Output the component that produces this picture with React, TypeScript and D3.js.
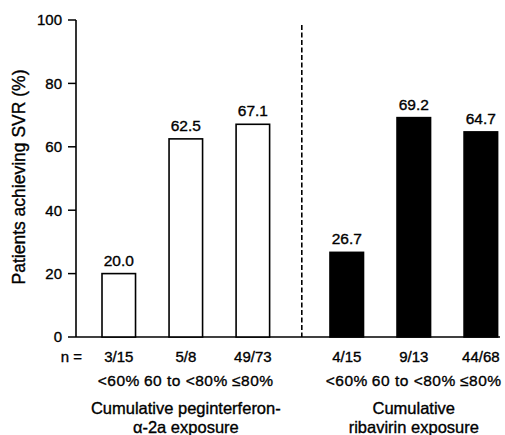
import React from 'react';
import * as d3 from 'd3';

const groups = ['peg', 'rib'];
const categories = ['<60%', '60 to <80%', '≤80%'];
const pegValues = [20.0, 62.5, 67.1];
const ribValues = [26.7, 69.2, 64.7];
const pegN = ['3/15', '5/8', '49/73'];
const ribN = ['4/15', '9/13', '44/68'];
const yTicks = [0, 20, 40, 60, 80, 100];
const groupTitles = [
  ['Cumulative peginterferon-', 'α-2a exposure'],
  ['Cumulative', 'ribavirin exposure'],
];

const font = 'Liberation Sans, Arial, sans-serif';

export default function App() {
  const width = 505;
  const height = 435;
  const axisX = 76;

  const y = d3.scaleLinear().domain([0, 100]).range([337, 20]);
  const outer = d3.scaleBand().domain(groups).range([95.3, 504.3]).paddingInner(0.206);
  const inner = d3
    .scaleBand()
    .domain(categories)
    .range([0, outer.bandwidth()])
    .paddingInner(0.5)
    .paddingOuter(0.1);

  const series = [
    { key: 'peg', values: pegValues, n: pegN, fill: '#fff' },
    { key: 'rib', values: ribValues, n: ribN, fill: '#000' },
  ];

  // dashed separator halfway between the two groups
  const lastPeg = outer('peg')! + inner(categories[2])! + inner.bandwidth();
  const firstRib = outer('rib')! + inner(categories[0])!;
  const dashX = (lastPeg + firstRib) / 2 + 2;

  // scanned look: slightly heavier text
  const txt = { fill: '#000', stroke: '#000', strokeWidth: 0.35 };

  return (
    <svg width={width} height={height} style={{ position: 'absolute', left: 0, top: 0 }} fontFamily={font}>
      <rect width={width} height={height} fill="#fff" />
      {/* axes */}
      <line x1={axisX} x2={axisX} y1={y(100)} y2={y(0)} stroke="#000" strokeWidth={1.6} />
      <line x1={axisX} x2={500} y1={y(0)} y2={y(0)} stroke="#000" strokeWidth={1.6} />
      {yTicks.map((t) => (
        <g key={t}>
          <line x1={axisX - 8} x2={axisX} y1={y(t)} y2={y(t)} stroke="#000" strokeWidth={1.5} />
          <text x={axisX - 14} y={y(t)} dy="0.36em" textAnchor="end" fontSize={15} {...txt}>
            {t}
          </text>
        </g>
      ))}
      <text
        transform={`translate(25,177) rotate(-90)`}
        textAnchor="middle"
        fontSize={17.5}
        {...txt}
      >
        Patients achieving SVR (%)
      </text>

      <line x1={dashX} x2={dashX} y1={25} y2={y(0)} stroke="#000" strokeWidth={1.6} strokeDasharray="5,2.5" />

      <text x={71.5} y={357} dy="0.35em" textAnchor="middle" fontSize={15} {...txt}>
        n =
      </text>

      {series.map((s, gi) => {
        const gx = outer(s.key)!;
        return (
          <g key={s.key}>
            {s.values.map((v, i) => {
              const x = gx + inner(categories[i])!;
              const cx = x + inner.bandwidth() / 2;
              return (
                <g key={i}>
                  <rect
                    x={x}
                    y={y(v)}
                    width={inner.bandwidth()}
                    height={y(0) - y(v)}
                    fill={s.fill}
                    stroke="#000"
                    strokeWidth={1.6}
                  />
                  <text x={cx} y={y(v) - 8} textAnchor="middle" fontSize={15.5} {...txt}>
                    {v.toFixed(1)}
                  </text>
                  <text x={cx} y={357} dy="0.35em" textAnchor="middle" fontSize={15} {...txt}>
                    {s.n[i]}
                  </text>
                  <text x={cx} y={381} dy="0.35em" textAnchor="middle" fontSize={15.5} letterSpacing={0.5} {...txt}>
                    {categories[i]}
                  </text>
                </g>
              );
            })}
            {groupTitles[gi].map((line, li) => (
              <text
                key={li}
                x={gx + outer.bandwidth() / 2}
                y={408 + li * 19}
                dy="0.35em"
                textAnchor="middle"
                fontSize={16.5}
                {...txt}
              >
                {line}
              </text>
            ))}
          </g>
        );
      })}
    </svg>
  );
}
